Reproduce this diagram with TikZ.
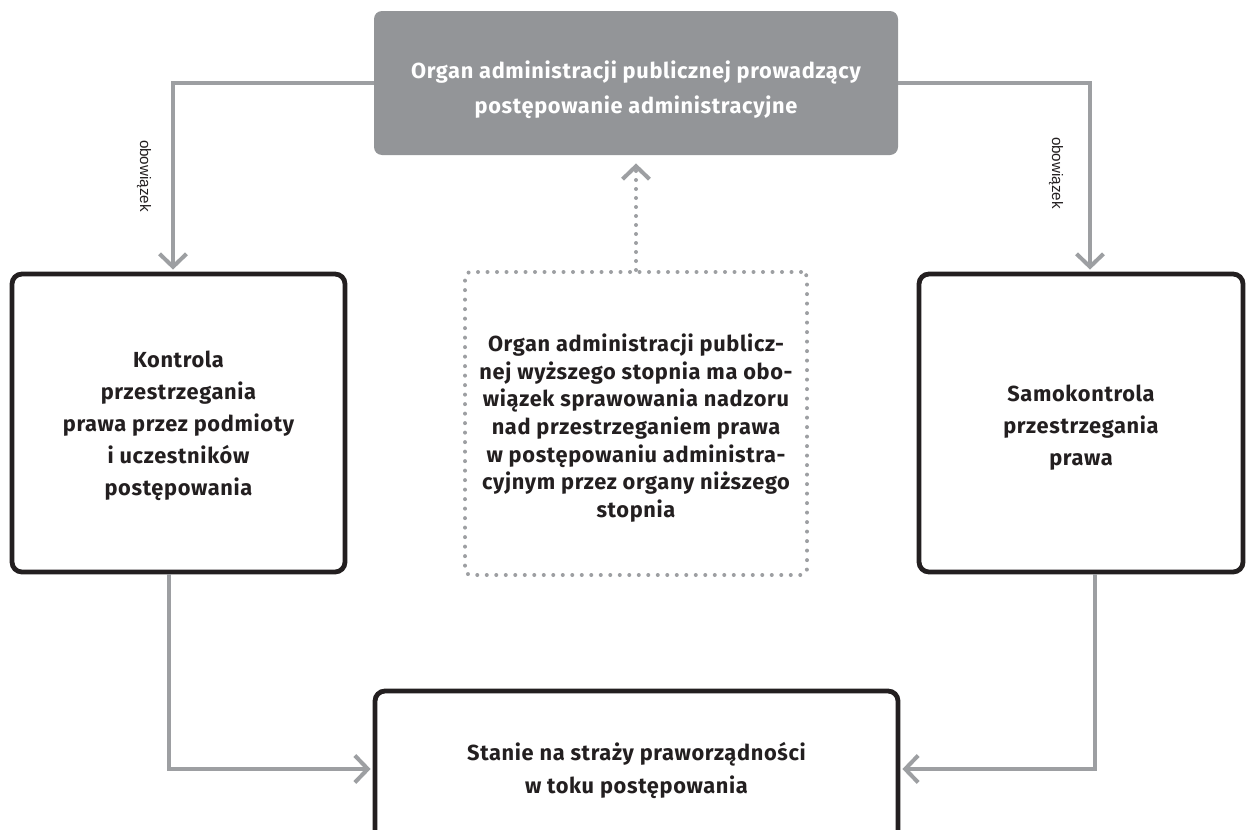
\documentclass[tikz,border=0pt]{standalone}
\usepackage{fontspec}
\setmainfont{Fira Sans}[LetterSpace=3]
\newfontfamily\labelfont{Liberation Sans}
\usetikzlibrary{arrows.meta}
\definecolor{boxgray}{HTML}{939598}
\definecolor{linegray}{HTML}{9D9FA2}
\definecolor{ink}{HTML}{231F20}
\tikzset{
  chevron/.tip={Straight Barb[length=6.5pt,width=13.5pt,line width=2pt]},
  headbox/.style={fill=boxgray, rounded corners=4pt, inner sep=0pt,
    minimum width=262pt, minimum height=72pt},
  mainbox/.style={draw=ink, line width=2.4pt, rounded corners=5pt, fill=white,
    inner sep=0pt},
  dotbox/.style={draw=linegray, line width=2pt, line cap=round,
    dash pattern=on 0pt off 4.75pt, rounded corners=3pt, inner sep=0pt,
    minimum width=171pt, minimum height=151.5pt},
  boxtext/.style={inner sep=0pt, text=ink, align=center,
    font=\bfseries\fontsize{10.9}{16}\selectfont},
  conn/.style={draw=linegray, line width=2pt, -chevron},
  dotconn/.style={draw=linegray, line width=2pt, line cap=round,
    dash pattern=on 0pt off 4.5pt, -chevron},
  lbl/.style={text=ink, inner sep=0pt, font=\labelfont\fontsize{7.6}{9}\selectfont}
}
\begin{document}
\begin{tikzpicture}[x=0.5pt,y=-0.5pt]
  \clip (0,0) rectangle (1254,830);

  % top: the authority conducting the proceedings
  \node[headbox] (top) at (636,83) {};
  \node[boxtext, text=white, font=\bfseries\fontsize{10.9}{17.5}\selectfont]
    (topText) at (636,90)
    {Organ administracji publicznej prowadzący\\postępowanie administracyjne};

  % side boxes
  \node[mainbox, minimum width=166.5pt, minimum height=149pt] (left) at (178.5,423) {};
  \node[boxtext] (leftText) at (178.5,426)
    {Kontrola\\przestrzegania\\prawa przez podmioty\\i uczestników\\postępowania};
  \node[mainbox, minimum width=162pt, minimum height=149pt] (right) at (1081,423) {};
  \node[boxtext] (rightText) at (1081,428)
    {Samokontrola\\przestrzegania\\prawa};

  % supervision box (dotted)
  \node[dotbox] (sup) at (636,423.5) {};
  \node[boxtext, font=\bfseries\fontsize{10.9}{13.8}\selectfont] (supText) at (636,428)
    {Organ administracji publicz-\\nej wyższego stopnia ma obo-\\wiązek sprawowania nadzoru\\nad przestrzeganiem prawa\\w postępowaniu administra-\\cyjnym przez organy niższego\\stopnia};

  % bottom box, running off the lower edge
  \node[mainbox, minimum width=261.5pt, minimum height=75pt] (bottom) at (636.5,766) {};
  \node[boxtext, font=\bfseries\fontsize{10.9}{16.5}\selectfont] (bottomText) at (636.5,770)
    {Stanie na straży praworządności\\w toku postępowania};

  % duty arrows from the top box
  \draw[conn] (top.west) -| ([xshift=-2.75pt,yshift=1pt]left.north);
  \draw[conn] (top.east) -| ([xshift=4.5pt,yshift=1pt]right.north);
  \node[lbl, rotate=-90] (dutyL) at (144,176) {obowiązek};
  \node[lbl, rotate=-90] (dutyR) at (1056,173) {obowiązek};

  % supervision arrow
  \draw[dotconn, shorten >=4pt] (sup.north) -- (top.south);

  % arrows into the bottom box
  \draw[conn] ([xshift=-4.75pt]left.south) |- ([xshift=-1pt,yshift=-1.5pt]bottom.west);
  \draw[conn] ([xshift=7pt]right.south) |- ([xshift=1pt,yshift=-1.5pt]bottom.east);
\end{tikzpicture}
\end{document}
